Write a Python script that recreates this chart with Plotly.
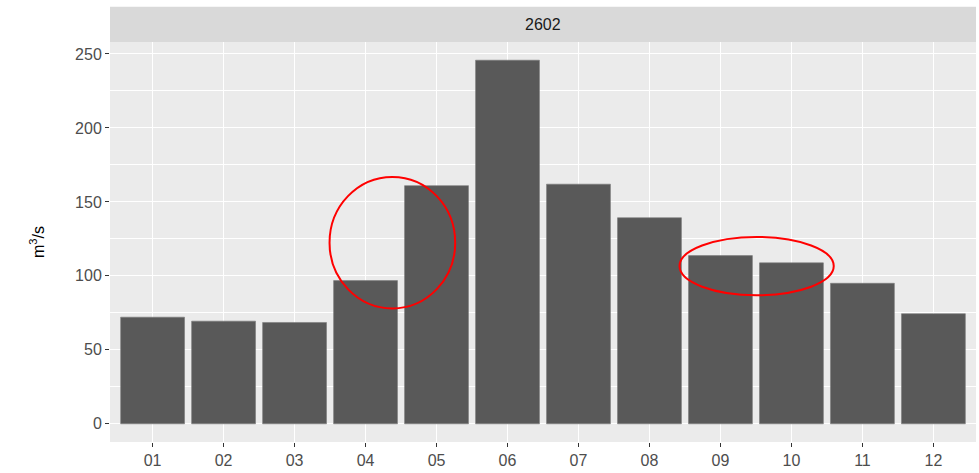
import plotly.graph_objects as go

months = ["01", "02", "03", "04", "05", "06", "07", "08", "09", "10", "11", "12"]
flow = [72.1, 69.4, 68.5, 96.8, 161.0, 245.8, 162.0, 139.3, 113.7, 108.8, 95.0, 74.4]
panel_label = "2602"
y_ticks = [0, 50, 100, 150, 200, 250]

fig = go.Figure()
fig.add_trace(go.Bar(
    x=months, y=flow, width=0.9,
    marker=dict(color="#595959", line=dict(color="#7a7a7a", width=0.6)),
    showlegend=False,
))

font_family = "Arial, Liberation Sans, sans-serif"

fig.update_layout(
    width=979, height=473,
    margin=dict(l=110, r=3, t=42, b=31),
    paper_bgcolor="white",
    plot_bgcolor="#EBEBEB",
    font=dict(family=font_family, size=16, color="#4D4D4D"),
    bargap=0.1,
    xaxis=dict(
        type="category", range=[-0.6, 11.6],
        showgrid=True, gridcolor="white", gridwidth=1.1,
        ticks="outside", ticklen=4, tickcolor="#333333", tickwidth=1,
        tickfont=dict(size=16, color="#4D4D4D"),
        zeroline=False, showline=False,
    ),
    yaxis=dict(
        range=[-12.3, 258.1],
        tickvals=y_ticks,
        showgrid=True, gridcolor="white", gridwidth=1.1,
        minor=dict(dtick=25, tick0=25, showgrid=True, gridcolor="white", gridwidth=0.55, ticks=""),
        ticks="outside", ticklen=4, tickcolor="#333333", tickwidth=1,
        tickfont=dict(size=16, color="#4D4D4D"),
        zeroline=False, showline=False,
        title=dict(text="m<sup>3</sup>/s", font=dict(size=16, color="black"), standoff=26),
    ),
)

# facet strip
fig.add_shape(type="rect", xref="paper", yref="paper", x0=0, x1=1, y0=1.0, y1=1.088,
              fillcolor="#D9D9D9", line=dict(width=0), layer="below")
fig.add_annotation(text=panel_label, xref="paper", yref="paper", x=0.5, y=1.044,
                   showarrow=False, font=dict(size=16, color="#1A1A1A"), yanchor="middle")

# red highlight ellipses (category-index coordinates)
ellipse1 = dict(x0=2.493, x1=4.263, y0=78.0, y1=166.9)
ellipse2 = dict(x0=7.423, x1=9.596, y0=86.9, y1=126.3)
for e in (ellipse1, ellipse2):
    fig.add_shape(type="circle", xref="x", yref="y", **e,
                  line=dict(color="#FF0000", width=2), fillcolor="rgba(0,0,0,0)")

fig.write_html("out.html")
